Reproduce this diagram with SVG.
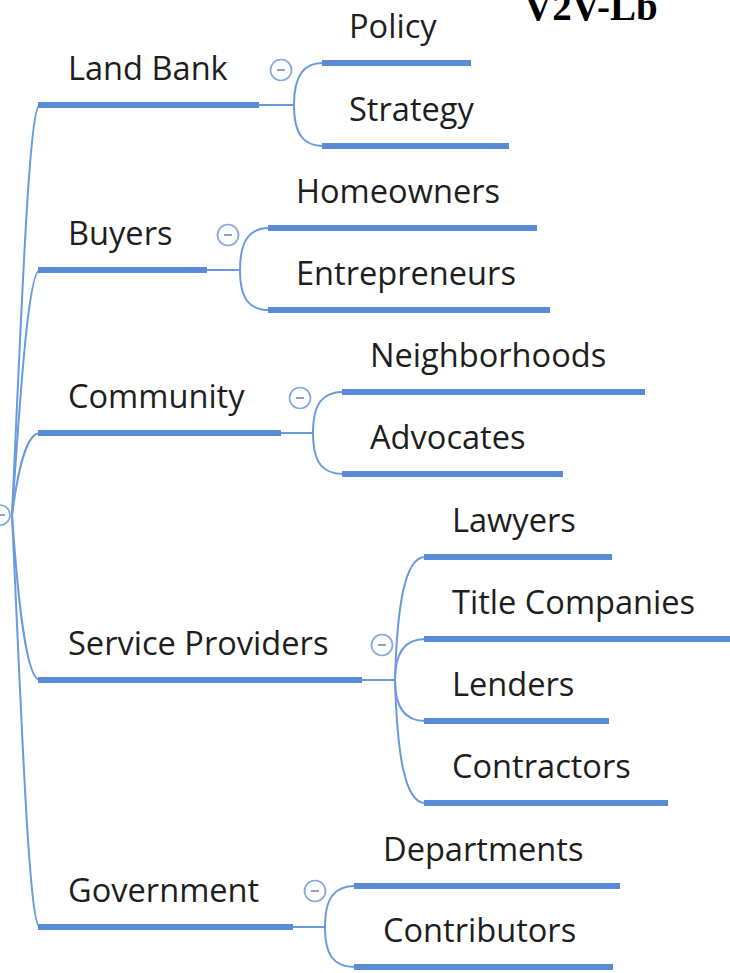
<svg xmlns="http://www.w3.org/2000/svg" width="730" height="973" viewBox="0 0 730 973">
<style>
.lbl{font-family:"Open Sans","Noto Sans","DejaVu Sans",sans-serif;font-size:32.6px;fill:#1e1e1e}
.ul{stroke:#5a8bd6;stroke-width:6;fill:none}
.cn{stroke:#6a9ae0;stroke-width:2;fill:none}
.cc{fill:#fff;stroke:#86a8e0;stroke-width:1.7}
.cm{stroke:#8a97b8;stroke-width:1.8}
.ttl{font-family:"Liberation Serif","Times New Roman",serif;font-weight:bold;font-size:39px;fill:#000}
</style>
<rect width="730" height="973" fill="#fff"/>
<text class="ttl" x="524" y="20">V2V-Lb</text>

<g id="connectors">
  <!-- root to level 1 -->
  <path class="cn" d="M12,515 C 22,300 29,105 40,105"/>
  <path class="cn" d="M12,515 C 20,400 28,270 40,270"/>
  <path class="cn" d="M12,515 C 18,470 26,433 40,433"/>
  <path class="cn" d="M12,515 C 18,600 26,680 40,680"/>
  <path class="cn" d="M12,515 C 22,730 29,927 40,927"/>
  <!-- Land Bank -->
  <path class="cn" d="M259,105 L294,105"/>
  <path class="cn" d="M294,105 C 294,75 304,63 323,63"/>
  <path class="cn" d="M294,105 C 294,135 304,146 323,146"/>
  <!-- Buyers -->
  <path class="cn" d="M207,270 L240,270"/>
  <path class="cn" d="M240,270 C 240,240 250,228 269,228"/>
  <path class="cn" d="M240,270 C 240,300 250,310 269,310"/>
  <!-- Community -->
  <path class="cn" d="M281,433 L313,433"/>
  <path class="cn" d="M313,433 C 313,403 323,392 343,392"/>
  <path class="cn" d="M313,433 C 313,463 323,474 343,474"/>
  <!-- Service Providers -->
  <path class="cn" d="M362,680 L395,680"/>
  <path class="cn" d="M395,680 C 397,610 404,557 425,557"/>
  <path class="cn" d="M395,680 C 395,652 405,639 425,639"/>
  <path class="cn" d="M395,680 C 395,708 405,721 425,721"/>
  <path class="cn" d="M395,680 C 397,750 404,803 425,803"/>
  <!-- Government -->
  <path class="cn" d="M293,927 L325,927"/>
  <path class="cn" d="M325,927 C 325,897 335,886 355,886"/>
  <path class="cn" d="M325,927 C 325,957 335,967 355,967"/>
</g>

<g id="root">
  <circle class="cc" cx="0" cy="515" r="10"/>
  <line class="cm" x1="0" y1="515" x2="5" y2="515"/>
</g>

<g id="land-bank">
  <line class="ul" x1="38" y1="105" x2="259" y2="105"/>
  <text class="lbl" x="68" y="80">Land Bank</text>
  <circle class="cc" cx="281" cy="70" r="10.5"/>
  <line class="cm" x1="277" y1="70" x2="285" y2="70"/>
</g>
<g id="policy">
  <line class="ul" x1="322" y1="63" x2="471" y2="63"/>
  <text class="lbl" x="349" y="38">Policy</text>
</g>
<g id="strategy">
  <line class="ul" x1="322" y1="146" x2="509" y2="146"/>
  <text class="lbl" x="349" y="121">Strategy</text>
</g>

<g id="buyers">
  <line class="ul" x1="38" y1="270" x2="207" y2="270"/>
  <text class="lbl" x="68" y="245">Buyers</text>
  <circle class="cc" cx="228" cy="235" r="10.5"/>
  <line class="cm" x1="224" y1="235" x2="232" y2="235"/>
</g>
<g id="homeowners">
  <line class="ul" x1="268" y1="228" x2="537" y2="228"/>
  <text class="lbl" x="296" y="203">Homeowners</text>
</g>
<g id="entrepreneurs">
  <line class="ul" x1="268" y1="310" x2="550" y2="310"/>
  <text class="lbl" x="296" y="285">Entrepreneurs</text>
</g>

<g id="community">
  <line class="ul" x1="38" y1="433" x2="281" y2="433"/>
  <text class="lbl" x="68" y="408">Community</text>
  <circle class="cc" cx="300" cy="398" r="10.5"/>
  <line class="cm" x1="296" y1="398" x2="304" y2="398"/>
</g>
<g id="neighborhoods">
  <line class="ul" x1="342" y1="392" x2="645" y2="392"/>
  <text class="lbl" x="370" y="367">Neighborhoods</text>
</g>
<g id="advocates">
  <line class="ul" x1="342" y1="474" x2="563" y2="474"/>
  <text class="lbl" x="370" y="449">Advocates</text>
</g>

<g id="service-providers">
  <line class="ul" x1="38" y1="680" x2="362" y2="680"/>
  <text class="lbl" x="68" y="655">Service Providers</text>
  <circle class="cc" cx="382" cy="645" r="10.5"/>
  <line class="cm" x1="378" y1="645" x2="386" y2="645"/>
</g>
<g id="lawyers">
  <line class="ul" x1="424" y1="557" x2="612" y2="557"/>
  <text class="lbl" x="452" y="532">Lawyers</text>
</g>
<g id="title-companies">
  <line class="ul" x1="424" y1="639" x2="730" y2="639"/>
  <text class="lbl" x="452" y="614">Title Companies</text>
</g>
<g id="lenders">
  <line class="ul" x1="424" y1="721" x2="609" y2="721"/>
  <text class="lbl" x="452" y="696">Lenders</text>
</g>
<g id="contractors">
  <line class="ul" x1="424" y1="803" x2="668" y2="803"/>
  <text class="lbl" x="452" y="778">Contractors</text>
</g>

<g id="government">
  <line class="ul" x1="38" y1="927" x2="293" y2="927"/>
  <text class="lbl" x="68" y="902">Government</text>
  <circle class="cc" cx="315" cy="891" r="10.5"/>
  <line class="cm" x1="311" y1="891" x2="319" y2="891"/>
</g>
<g id="departments">
  <line class="ul" x1="354" y1="886" x2="620" y2="886"/>
  <text class="lbl" x="383" y="861">Departments</text>
</g>
<g id="contributors">
  <line class="ul" x1="354" y1="967" x2="613" y2="967"/>
  <text class="lbl" x="383" y="942">Contributors</text>
</g>
</svg>
